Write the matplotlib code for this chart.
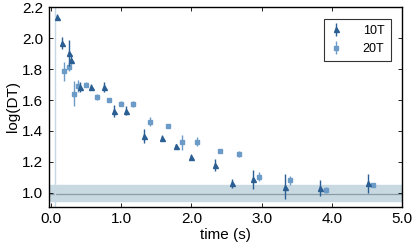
import numpy as np
import matplotlib.pyplot as plt

plt.rcParams['font.family'] = ['Liberation Sans', 'DejaVu Sans']

# 10T
t10 = [0.09, 0.15, 0.25, 0.29, 0.41, 0.57, 0.75, 0.90, 1.07, 1.32, 1.58, 1.78, 2.00,
       2.33, 2.58, 2.88, 3.33, 3.83, 4.51]
y10 = [2.14, 1.97, 1.905, 1.86, 1.685, 1.685, 1.685, 1.53, 1.53, 1.37, 1.353, 1.30, 1.23,
       1.18, 1.06, 1.087, 1.04, 1.03, 1.06]
e10 = [0.015, 0.04, 0.085, 0.03, 0.03, 0.02, 0.03, 0.04, 0.03, 0.045, 0.02, 0.015, 0.02,
       0.04, 0.03, 0.06, 0.08, 0.05, 0.06]

# 20T
t20 = [0.18, 0.25, 0.33, 0.38, 0.50, 0.65, 0.83, 0.99, 1.16, 1.41, 1.66, 1.87, 2.08,
       2.41, 2.67, 2.96, 3.41, 3.92, 4.59]
y20 = [1.786, 1.815, 1.64, 1.69, 1.70, 1.62, 1.60, 1.576, 1.576, 1.46, 1.43, 1.327, 1.33,
       1.27, 1.25, 1.104, 1.08, 1.02, 1.05]
e20 = [0.06, 0.03, 0.08, 0.04, 0.015, 0.02, 0.015, 0.015, 0.02, 0.03, 0.01, 0.05, 0.03,
       0.01, 0.02, 0.03, 0.03, 0.02, 0.015]

base = 0.995
band_lo, band_hi = 0.944, 1.048

fig = plt.figure(figsize=(4.15, 2.44), dpi=100)
ax = fig.add_axes([0.118, 0.153, 0.851, 0.817])

ax.axhspan(band_lo, band_hi, color='#c8d9e1', zorder=0)
ax.axhline(base, color='#8a9da6', lw=0.9, zorder=1)
ax.axvline(0.06, color='#c8d9e6', lw=1.0, zorder=1)

ax.errorbar(t10, y10, yerr=e10, fmt='^', color='#2b5f93', ms=3.6, elinewidth=1.0,
            capsize=0, label='10T', zorder=3)
ax.errorbar(t20, y20, yerr=e20, fmt='s', color='#6b9bc6', ms=3.4, elinewidth=1.0,
            capsize=0, label='20T', zorder=2)

ax.set_xlim(-0.03, 5.0)
ax.set_ylim(0.91, 2.2)
ax.set_xticks([0, 1, 2, 3, 4, 5])
ax.set_xticklabels(['0.0', '1.0', '2.0', '3.0', '4.0', '5.0'])
ax.set_yticks([1.0, 1.2, 1.4, 1.6, 1.8, 2.0, 2.2])
ax.set_yticklabels(['1.0', '1.2', '1.4', '1.6', '1.8', '2.0', '2.2'])
ax.tick_params(direction='in', top=True, right=True, labelsize=11, length=3, width=0.6, pad=4)
for s in ax.spines.values():
    s.set_linewidth(1.0)

ax.set_xlabel('time (s)', fontsize=11, labelpad=1)
ax.set_ylabel('log(DT)', fontsize=11, labelpad=2)

leg = ax.legend(loc='upper right', fancybox=False, edgecolor='black', fontsize=9,
                handlelength=1.0, handletextpad=1.6, borderpad=0.5, labelspacing=0.5,
                bbox_to_anchor=(0.985, 0.975))
leg.get_frame().set_linewidth(0.8)

fig.savefig('out.png', dpi=100)
